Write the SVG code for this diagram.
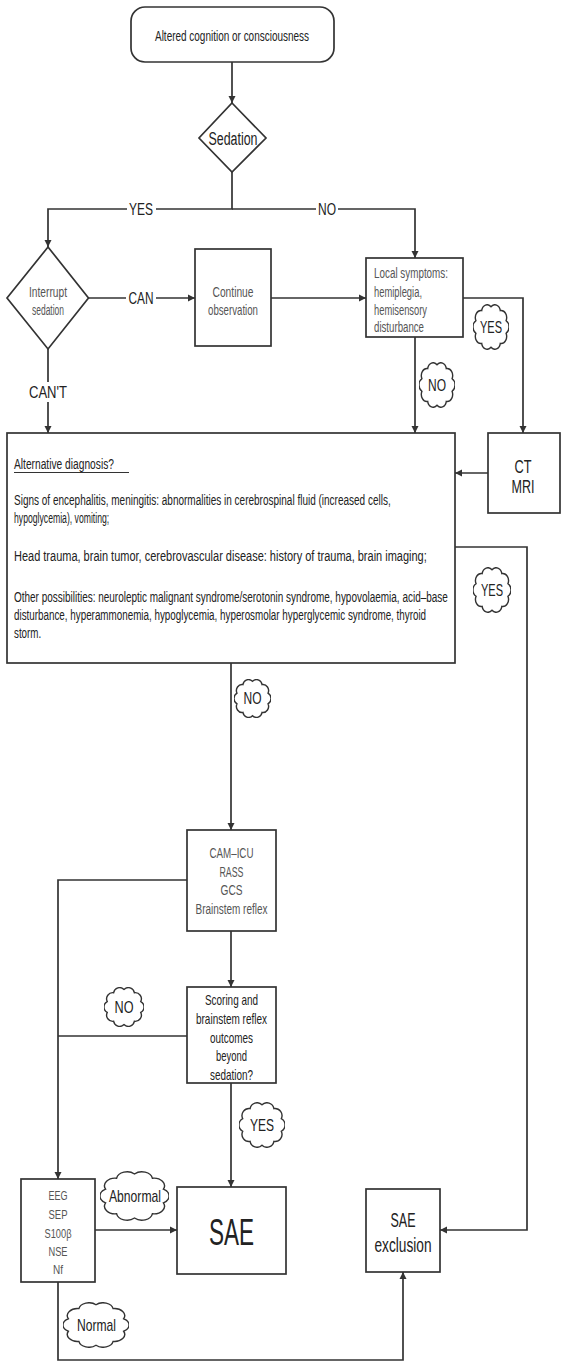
<svg xmlns="http://www.w3.org/2000/svg" xmlns:xlink="http://www.w3.org/1999/xlink" width="566" height="1366" viewBox="0 0 566 1366">
<style>
.box{fill:#fff;stroke:#333;stroke-width:1.7}
.ln{fill:none;stroke:#333;stroke-width:1.7}
.t{font-family:"Liberation Sans",Arial,sans-serif;fill:#222}
.c{text-anchor:middle}
.g{fill:#555}
.lbl{font-family:"Liberation Sans",Arial,sans-serif;fill:#222;font-size:17px;text-anchor:middle}
.cl{fill:#fff;stroke:#333;stroke-width:1.4;vector-effect:non-scaling-stroke}
</style>
<defs>
<marker id="ah" viewBox="0 0 10 10" refX="10" refY="5" markerWidth="7" markerHeight="9" markerUnits="userSpaceOnUse" orient="auto">
<path d="M0,0 L10,5 L0,10 Z" fill="#333"/>
</marker>
<symbol id="cloud" viewBox="4.6 4.6 90.8 90.8" preserveAspectRatio="none">
<path class="cl" d="M50,10 A14,14 0 0 1 73.51,17.64 A14,14 0 0 1 88.04,37.64 A14,14 0 0 1 88.04,62.36 A14,14 0 0 1 73.51,82.36 A14,14 0 0 1 50,90 A14,14 0 0 1 26.49,82.36 A14,14 0 0 1 11.96,62.36 A14,14 0 0 1 11.96,37.64 A14,14 0 0 1 26.49,17.64 A14,14 0 0 1 50,10 Z"/>
</symbol>
</defs>
<rect width="566" height="1366" fill="#fff"/>

<g id="connectors">
<path class="ln" d="M232,62 V103" marker-end="url(#ah)"/>
<path class="ln" d="M232,172 V209 H48 V247" marker-end="url(#ah)"/>
<path class="ln" d="M232,209 H415 V258" marker-end="url(#ah)"/>
<path class="ln" d="M88.5,298 H195" marker-end="url(#ah)"/>
<path class="ln" d="M271,298 H366" marker-end="url(#ah)"/>
<path class="ln" d="M48,349 V433" marker-end="url(#ah)"/>
<path class="ln" d="M415,337 V433" marker-end="url(#ah)"/>
<path class="ln" d="M463,298 H523 V433" marker-end="url(#ah)"/>
<path class="ln" d="M488,473 H455" marker-end="url(#ah)"/>
<path class="ln" d="M455,547 H527 V1230 H440" marker-end="url(#ah)"/>
<path class="ln" d="M231,663 V830" marker-end="url(#ah)"/>
<path class="ln" d="M231,931 V987" marker-end="url(#ah)"/>
<path class="ln" d="M187,880 H58 V1179" marker-end="url(#ah)"/>
<path class="ln" d="M187,1036 H58"/>
<path class="ln" d="M231,1083 V1187" marker-end="url(#ah)"/>
<path class="ln" d="M95,1230 H177" marker-end="url(#ah)"/>
<path class="ln" d="M58,1282 V1360 H403 V1272" marker-end="url(#ah)"/>
<rect x="127" y="201" width="29" height="17" fill="#fff"/>
<text class="lbl" x="141" y="215" textLength="24" lengthAdjust="spacingAndGlyphs">YES</text>
<rect x="316" y="201" width="22" height="17" fill="#fff"/>
<text class="lbl" x="327" y="215" textLength="18" lengthAdjust="spacingAndGlyphs">NO</text>
<rect x="126" y="290" width="30" height="17" fill="#fff"/>
<text class="lbl" x="141" y="304" textLength="25" lengthAdjust="spacingAndGlyphs">CAN</text>
<rect x="27" y="382" width="42" height="20" fill="#fff"/>
<text class="lbl" x="48" y="398" textLength="38" lengthAdjust="spacingAndGlyphs">CAN'T</text>
<use xlink:href="#cloud" href="#cloud" x="473" y="304" width="36" height="46"/>
<text class="lbl" x="491" y="333" textLength="22" lengthAdjust="spacingAndGlyphs">YES</text>
<use xlink:href="#cloud" href="#cloud" x="419" y="362" width="36" height="46"/>
<text class="lbl" x="437" y="391" textLength="18" lengthAdjust="spacingAndGlyphs">NO</text>
<use xlink:href="#cloud" href="#cloud" x="473" y="567" width="38" height="46"/>
<text class="lbl" x="492" y="596" textLength="22" lengthAdjust="spacingAndGlyphs">YES</text>
<use xlink:href="#cloud" href="#cloud" x="234" y="679" width="37" height="39"/>
<text class="lbl" x="252.5" y="704" textLength="18" lengthAdjust="spacingAndGlyphs">NO</text>
<use xlink:href="#cloud" href="#cloud" x="104" y="987" width="40" height="40"/>
<text class="lbl" x="124" y="1013" textLength="19" lengthAdjust="spacingAndGlyphs">NO</text>
<use xlink:href="#cloud" href="#cloud" x="239" y="1102" width="46" height="46"/>
<text class="lbl" x="262" y="1131" textLength="24" lengthAdjust="spacingAndGlyphs">YES</text>
<use xlink:href="#cloud" href="#cloud" x="100" y="1171" width="69" height="50"/>
<text class="lbl" x="135" y="1202" textLength="52" lengthAdjust="spacingAndGlyphs">Abnormal</text>
<use xlink:href="#cloud" href="#cloud" x="63" y="1302" width="66" height="46"/>
<text class="lbl" x="96.5" y="1331" textLength="39" lengthAdjust="spacingAndGlyphs">Normal</text>
</g>

<g id="start" font-size="14">
<rect class="box" x="131" y="7" width="203" height="55" rx="14"/>
<text class="t c" x="232" y="41" textLength="154" lengthAdjust="spacingAndGlyphs">Altered cognition or consciousness</text>
</g>

<g id="sedation" font-size="18">
<polygon class="box" points="232,103 266,138 232,172 199,138"/>
<text class="t c" x="233" y="145" textLength="49" lengthAdjust="spacingAndGlyphs">Sedation</text>
</g>

<g id="interrupt" font-size="14">
<polygon class="box" points="48,247 88.5,298 48,349 7,298"/>
<text class="t c g" x="48" y="297" textLength="38" lengthAdjust="spacingAndGlyphs">Interrupt</text>
<text class="t c g" x="48" y="315" textLength="32" lengthAdjust="spacingAndGlyphs">sedation</text>
</g>

<g id="continue" font-size="14.5">
<rect class="box" x="195" y="249" width="76" height="97"/>
<text class="t c g" x="233" y="297" textLength="41" lengthAdjust="spacingAndGlyphs">Continue</text>
<text class="t c g" x="233" y="315" textLength="50" lengthAdjust="spacingAndGlyphs">observation</text>
</g>

<g id="local" font-size="14">
<rect class="box" x="366" y="258" width="97" height="79"/>
<text class="t g" x="374" y="277.5" textLength="74" lengthAdjust="spacingAndGlyphs">Local symptoms:</text>
<text class="t g" x="374" y="296.5" textLength="48" lengthAdjust="spacingAndGlyphs">hemiplegia,</text>
<text class="t g" x="374" y="315" textLength="53" lengthAdjust="spacingAndGlyphs">hemisensory</text>
<text class="t g" x="374" y="332" textLength="50" lengthAdjust="spacingAndGlyphs">disturbance</text>
</g>

<g id="ctmri" font-size="18">
<rect class="box" x="488" y="433" width="72" height="80"/>
<text class="t c" x="523" y="473" textLength="17" lengthAdjust="spacingAndGlyphs">CT</text>
<text class="t c" x="523" y="493" textLength="23" lengthAdjust="spacingAndGlyphs">MRI</text>
</g>

<g id="alternative">
<rect class="box" x="7" y="433" width="448" height="230"/>
<line x1="14" y1="472.5" x2="129" y2="472.5" stroke="#333" stroke-width="1"/>
<g font-size="14.5" transform="translate(14,0) scale(0.68,1)">
<text class="t" x="0" y="469" textLength="147" lengthAdjust="spacingAndGlyphs">Alternative diagnosis?</text>
<text class="t" x="0" y="505" textLength="554" lengthAdjust="spacingAndGlyphs">Signs of encephalitis, meningitis: abnormalities in cerebrospinal fluid (increased cells,</text>
<text class="t" x="0" y="523" textLength="140" lengthAdjust="spacingAndGlyphs">hypoglycemia), vomiting;</text>
<text class="t" x="0" y="561" textLength="607" lengthAdjust="spacingAndGlyphs">Head trauma, brain tumor, cerebrovascular disease: history of trauma, brain imaging;</text>
<text class="t" x="0" y="602" textLength="638" lengthAdjust="spacingAndGlyphs">Other possibilities: neuroleptic malignant syndrome/serotonin syndrome, hypovolaemia, acid–base</text>
<text class="t" x="0" y="620" textLength="606" lengthAdjust="spacingAndGlyphs">disturbance, hyperammonemia, hypoglycemia, hyperosmolar hyperglycemic syndrome, thyroid</text>
<text class="t" x="0" y="638" textLength="40" lengthAdjust="spacingAndGlyphs">storm.</text>
</g>
</g>

<g id="camicu" font-size="14">
<rect class="box" x="187" y="830" width="89" height="101"/>
<text class="t c g" x="231.5" y="858" textLength="44" lengthAdjust="spacingAndGlyphs">CAM–ICU</text>
<text class="t c g" x="231.5" y="877" textLength="24" lengthAdjust="spacingAndGlyphs">RASS</text>
<text class="t c g" x="231.5" y="895" textLength="22" lengthAdjust="spacingAndGlyphs">GCS</text>
<text class="t c g" x="231.5" y="914" textLength="72" lengthAdjust="spacingAndGlyphs">Brainstem reflex</text>
</g>

<g id="scoring" font-size="14.5">
<rect class="box" x="187" y="987" width="89" height="96"/>
<text class="t c" x="231.5" y="1005" textLength="53" lengthAdjust="spacingAndGlyphs">Scoring and</text>
<text class="t c" x="231.5" y="1024" textLength="71" lengthAdjust="spacingAndGlyphs">brainstem reflex</text>
<text class="t c" x="231.5" y="1043" textLength="43" lengthAdjust="spacingAndGlyphs">outcomes</text>
<text class="t c" x="231.5" y="1061" textLength="31" lengthAdjust="spacingAndGlyphs">beyond</text>
<text class="t c" x="231.5" y="1080" textLength="43" lengthAdjust="spacingAndGlyphs">sedation?</text>
</g>

<g id="eeg" font-size="13.5">
<rect class="box" x="21" y="1179" width="74" height="103"/>
<text class="t c g" x="58" y="1200" textLength="19" lengthAdjust="spacingAndGlyphs">EEG</text>
<text class="t c g" x="58" y="1219" textLength="19" lengthAdjust="spacingAndGlyphs">SEP</text>
<text class="t c g" x="58" y="1238" textLength="27" lengthAdjust="spacingAndGlyphs">S100β</text>
<text class="t c g" x="58" y="1256" textLength="19" lengthAdjust="spacingAndGlyphs">NSE</text>
<text class="t c g" x="58" y="1274" textLength="10" lengthAdjust="spacingAndGlyphs">Nf</text>
</g>

<g id="sae" font-size="36">
<rect class="box" x="177" y="1187" width="109" height="87"/>
<text class="t c" x="231.5" y="1245" fill="#111" textLength="45" lengthAdjust="spacingAndGlyphs">SAE</text>
</g>

<g id="saeexclusion" font-size="19.5">
<rect class="box" x="366" y="1189" width="74" height="83"/>
<text class="t c" x="403" y="1227" textLength="25" lengthAdjust="spacingAndGlyphs">SAE</text>
<text class="t c" x="403" y="1252" textLength="57" lengthAdjust="spacingAndGlyphs">exclusion</text>
</g>
</svg>
